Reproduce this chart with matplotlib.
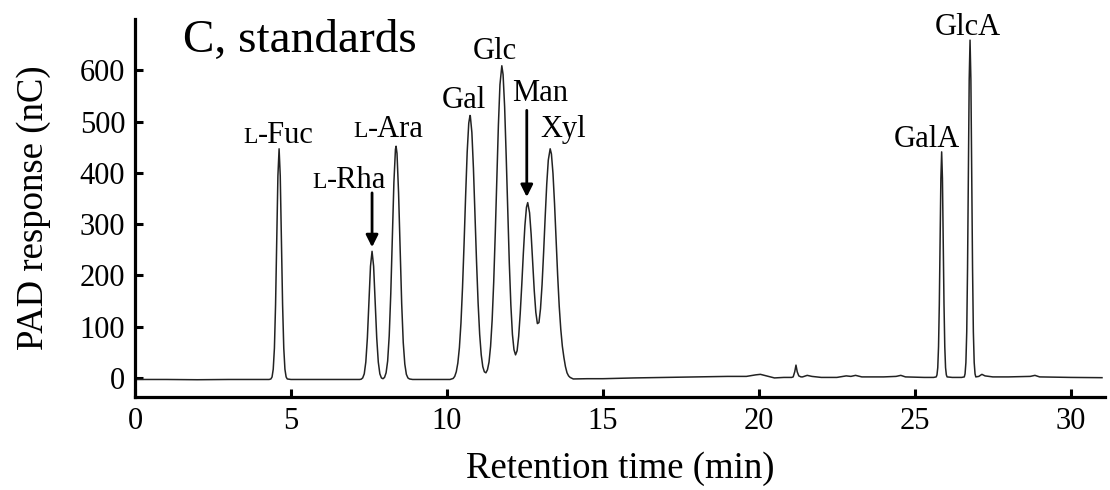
import matplotlib
matplotlib.use("Agg")
import matplotlib.pyplot as plt

plt.rcParams['font.family'] = ['Liberation Serif', 'DejaVu Serif']

# Traced chromatogram (retention time in min, PAD response in nC)
time_min = [
    0.0, 1.0, 2.0, 3.0, 4.0, 4.3,
    4.357, 4.395, 4.432, 4.47, 4.507, 4.545, 4.582, 4.62, 4.657, 4.695,
    4.732, 4.77, 4.807, 4.845, 4.882,
    5.0, 6.0, 7.0, 7.2,
    7.25, 7.30, 7.35, 7.40, 7.45, 7.50, 7.55, 7.60, 7.65, 7.70, 7.75, 7.80,
    7.85, 7.90, 7.95, 8.00, 8.05, 8.10, 8.15, 8.20, 8.25, 8.30, 8.35, 8.37,
    8.40, 8.45, 8.50, 8.55, 8.60, 8.65, 8.70, 8.75, 8.80, 8.90,
    9.5, 10.0,
    10.10, 10.15, 10.20, 10.25, 10.30, 10.35, 10.40, 10.45, 10.50, 10.55,
    10.60, 10.65, 10.70, 10.74, 10.75, 10.80, 10.85, 10.90, 10.95, 11.00,
    11.05, 11.10, 11.15, 11.20, 11.25, 11.30, 11.35, 11.40, 11.45, 11.50,
    11.55, 11.60, 11.65, 11.70, 11.76, 11.80, 11.85, 11.90, 11.95, 12.00,
    12.05, 12.10, 12.15, 12.20, 12.25, 12.30, 12.35, 12.40, 12.45, 12.50,
    12.55, 12.59, 12.65, 12.70, 12.75, 12.80, 12.85, 12.90, 12.95, 13.00,
    13.05, 13.10, 13.15, 13.20, 13.25, 13.31, 13.35, 13.40, 13.45, 13.50,
    13.55, 13.60, 13.65, 13.70, 13.75, 13.80, 13.85, 13.90, 13.95, 14.05,
    14.5, 15.0, 16.0, 17.0, 18.0, 19.0, 19.6, 19.9, 20.05, 20.3, 20.5, 20.8,
    21.05, 21.10, 21.15, 21.19, 21.23, 21.28, 21.35, 21.4, 21.55, 21.7, 22.0,
    22.5, 22.8, 22.95, 23.1, 23.3, 24.0, 24.4, 24.55, 24.7, 25.3, 25.6,
    25.685, 25.71, 25.735, 25.76, 25.785, 25.81, 25.835, 25.86, 25.885,
    25.91, 25.935, 25.96, 25.985, 26.01, 26.035,
    26.2, 26.5,
    26.585, 26.61, 26.637, 26.664, 26.69, 26.717, 26.743, 26.77, 26.797,
    26.823, 26.85, 26.876, 26.903, 26.93, 26.955,
    27.05, 27.15, 27.25, 27.5, 28.0, 28.7, 28.85, 29.0, 30.0, 31.0,
]
response_nC = [
    -3, -3, -3.5, -3, -3, -3,
    -2, 2, 17, 58, 143, 270, 394, 447, 394, 270,
    143, 58, 17, 2, -2,
    -3, -3, -3, -3,
    -2.5, 0, 8, 31, 78, 149, 218, 247, 218, 149, 78, 31,
    8, 0, -1.5, 1, 10, 33, 82, 164, 273, 381, 446, 452,
    438, 361, 250, 145, 69, 27, 7, 0, -2, -3,
    -3, -3,
    -3, -2, -1, 3, 12, 29, 59, 107, 176, 262,
    356, 441, 497, 512, 511, 479, 409, 319, 226, 146,
    85, 45, 22, 12, 10, 16, 31, 62, 113, 187,
    282, 390, 493, 572, 609, 592, 529, 433, 325, 224,
    142, 85, 55, 45, 53, 81, 126, 182, 243, 297,
    333, 342, 322, 280, 224, 170, 128, 106, 108, 135,
    182, 245, 314, 378, 425, 447, 437, 399, 340, 270,
    200, 140, 95, 62, 40, 22, 10, 4, 1, -2,
    -1.5, -1.5, 0, 1, 2, 3, 3, 6, 7, 3, 0, 1,
    1, 2, 12, 25, 12, 4, 2, 2, 5, 3, 1,
    1, 4, 3, 5, 2, 2, 3, 5, 2, 1, 1,
    2, 6, 20, 61, 144, 268, 389, 441, 389,
    268, 144, 61, 20, 6, 2,
    1, 1,
    2, 8, 30, 90, 215, 400, 582, 659, 582,
    400, 215, 90, 30, 8, 2,
    3, 7, 4, 2, 2, 3, 5, 2, 1, 0.5,
]

# Peak labels
plain_labels = ["Gal", "Glc", "Man", "Xyl", "GalA", "GlcA"]
plain_x = [10.54, 11.55, 13.0, 13.72, 25.38, 26.7]
plain_y = [526, 622, 540, 470, 450, 669]

# Labels with a small-capital "L" prefix
l_labels = ["-Fuc", "-Rha", "-Ara"]
l_x = [3.94, 6.15, 7.47]
l_y = [458, 370, 470]

# Arrows: x, tail y, tip y
arrow_x = [7.60, 12.56]
arrow_tail = [361, 522]
arrow_tip = [255, 353]

x_ticks = [0, 5, 10, 15, 20, 25, 30]
y_ticks = [0, 100, 200, 300, 400, 500, 600]

fig = plt.figure(figsize=(11.1, 4.9), dpi=100)
ax = fig.add_axes([0.1216, 0.19, 0.874, 0.771])

ax.plot(time_min, response_nC, color='#222222', lw=1.1)

ax.set_xlim(0, 31.1)
ax.set_ylim(-37, 700)
ax.set_xticks(x_ticks)
ax.set_yticks(y_ticks)

for s in ['top', 'right']:
    ax.spines[s].set_visible(False)
for s in ['left', 'bottom']:
    ax.spines[s].set_linewidth(2.3)

ax.tick_params(direction='in', length=5.5, width=2.2, labelsize=22, pad=7)

ax.set_xlabel("Retention time (min)", fontsize=26.5, labelpad=11)
ax.set_ylabel("PAD response (nC)", fontsize=26.5, labelpad=21)

ax.text(1.54, 635, "C, standards", fontsize=34, va='baseline', ha='left')

for t, x, y in zip(plain_labels, plain_x, plain_y):
    ax.text(x, y, t, fontsize=22, ha='center', va='baseline')

for t, x, y in zip(l_labels, l_x, l_y):
    ax.text(x, y, "L", fontsize=17, ha='right', va='baseline')
    ax.text(x, y, t, fontsize=22, ha='left', va='baseline')

for x, y0, y1 in zip(arrow_x, arrow_tail, arrow_tip):
    ax.annotate('', xy=(x, y1), xytext=(x, y0),
                arrowprops=dict(arrowstyle='-|>', lw=2.0, color='black',
                                mutation_scale=18, shrinkA=0, shrinkB=0))

fig.savefig("out.png", dpi=100)
